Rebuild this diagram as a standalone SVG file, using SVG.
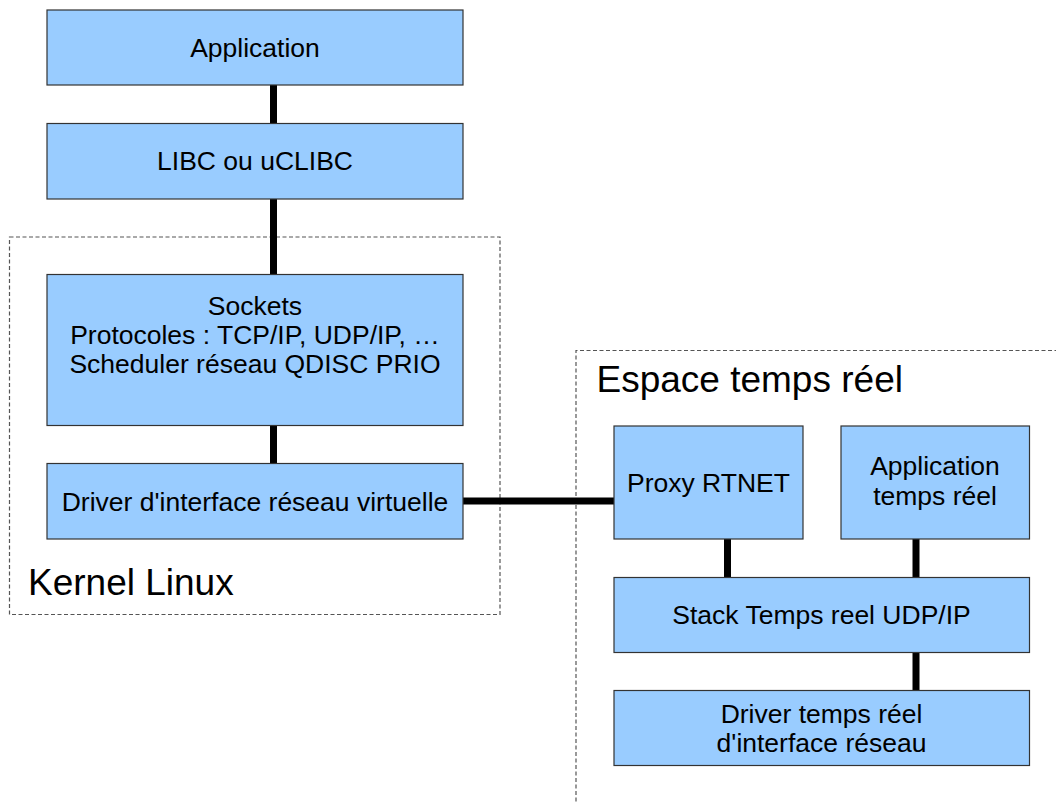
<svg xmlns="http://www.w3.org/2000/svg" width="1056" height="802" viewBox="0 0 1056 802">
<style>
.box{fill:#99ccff;stroke:#333;stroke-width:1.2}
.grp{fill:none;stroke:#555;stroke-width:1.2;stroke-dasharray:4 2.5}
.t{font-family:"Liberation Sans",Arial,sans-serif;font-size:26.5px;fill:#000;text-anchor:middle}
.big{font-family:"Liberation Sans",Arial,sans-serif;font-size:37px;fill:#000}
.c{stroke:#000;stroke-width:7;fill:none}
</style>
<rect width="1056" height="802" fill="#fff"/>
<g id="kernel">
<rect class="grp" x="9.5" y="237" width="490.5" height="377.5"/>
<text class="big" x="28" y="595">Kernel Linux</text>
</g>
<g id="rt">
<path class="grp" d="M576 808V350.5H1060"/>
<text class="big" x="596.5" y="392">Espace temps réel</text>
</g>
<g id="connectors">
<line class="c" x1="273.5" y1="85" x2="273.5" y2="123"/>
<line class="c" x1="273.5" y1="199" x2="273.5" y2="274"/>
<line class="c" x1="273.5" y1="426" x2="273.5" y2="463"/>
<line class="c" x1="463" y1="501" x2="614" y2="501"/>
<line class="c" x1="727.5" y1="539" x2="727.5" y2="577"/>
<line class="c" x1="916" y1="539" x2="916" y2="577"/>
<line class="c" x1="916" y1="652" x2="916" y2="690"/>
</g>
<g id="app">
<rect class="box" x="47" y="10" width="416" height="75"/>
<text class="t" x="255" y="56.5">Application</text>
</g>
<g id="libc">
<rect class="box" x="47" y="123.5" width="416" height="75.5"/>
<text class="t" x="255" y="170">LIBC ou uCLIBC</text>
</g>
<g id="sockets">
<rect class="box" x="47" y="274.5" width="416" height="151"/>
<text class="t" x="255" y="315">Sockets</text>
<text class="t" x="255" y="343.5">Protocoles : TCP/IP, UDP/IP, …</text>
<text class="t" x="255" y="372.5">Scheduler réseau QDISC PRIO</text>
</g>
<g id="vdriver">
<rect class="box" x="47" y="463.5" width="416" height="75.5"/>
<text class="t" x="255" y="511">Driver d'interface réseau virtuelle</text>
</g>
<g id="proxy">
<rect class="box" x="614" y="426" width="189" height="113"/>
<text class="t" x="708.5" y="491.5">Proxy RTNET</text>
</g>
<g id="rtapp">
<rect class="box" x="841" y="426" width="188.5" height="113"/>
<text class="t" x="935" y="475">Application</text>
<text class="t" x="935" y="505">temps réel</text>
</g>
<g id="stack">
<rect class="box" x="614" y="577.5" width="415.5" height="75"/>
<text class="t" x="821.5" y="623.5">Stack Temps reel UDP/IP</text>
</g>
<g id="rtdriver">
<rect class="box" x="614" y="690.5" width="415.5" height="75"/>
<text class="t" x="821.5" y="723">Driver temps réel</text>
<text class="t" x="821.5" y="752">d'interface réseau</text>
</g>
</svg>
